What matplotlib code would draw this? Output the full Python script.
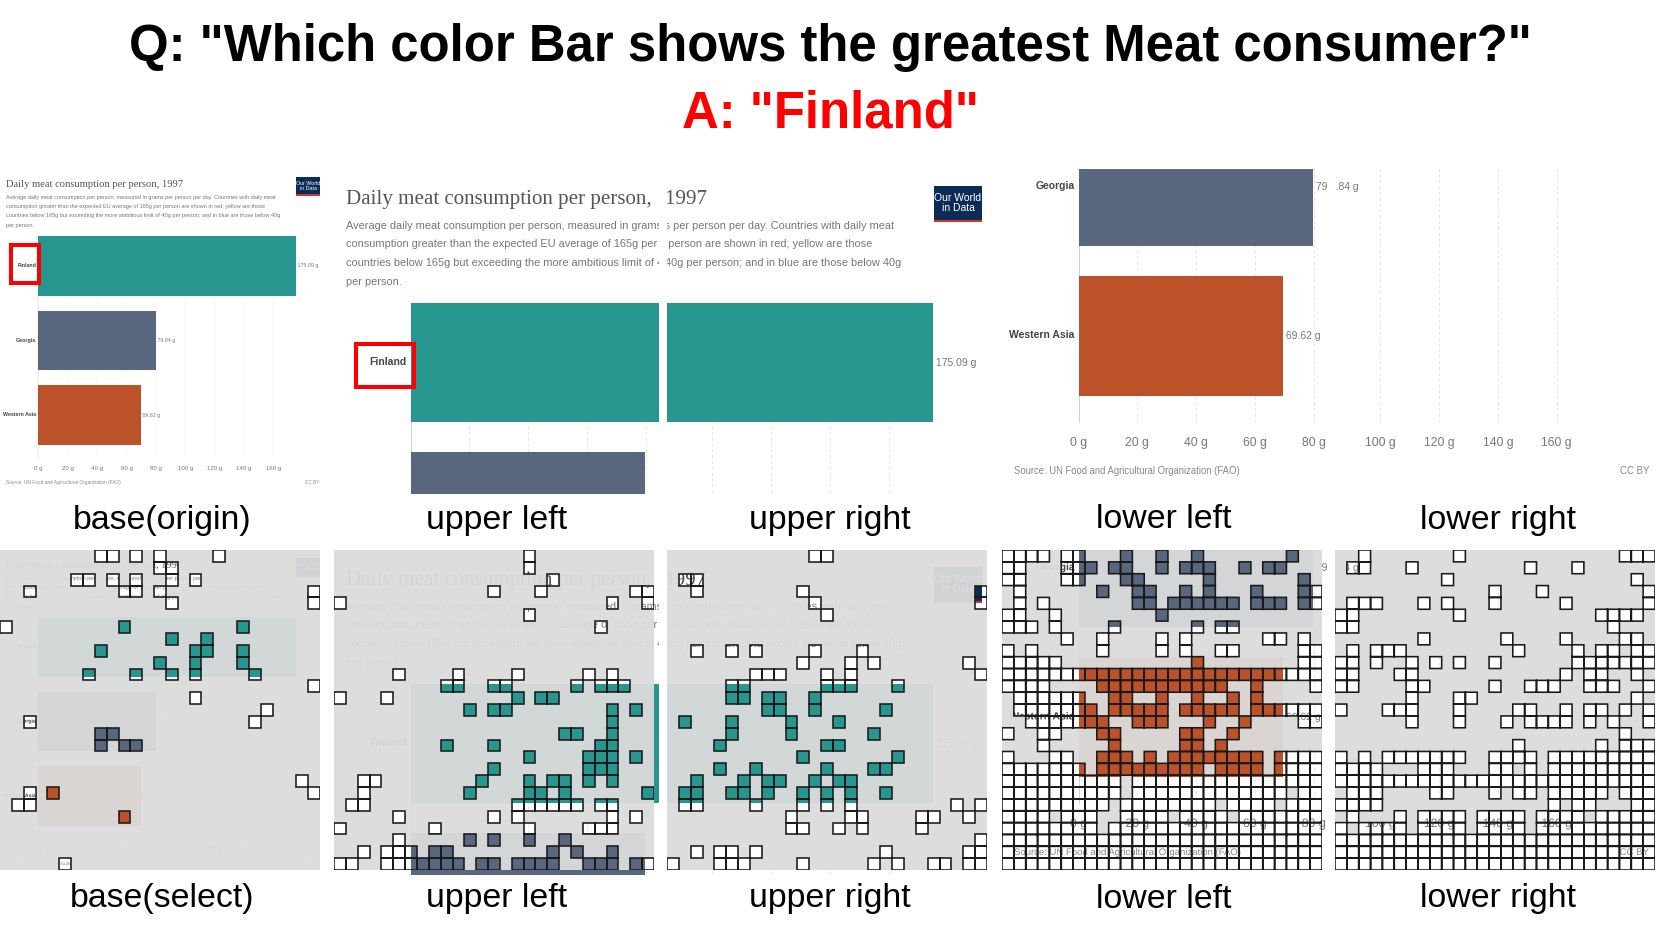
import matplotlib
matplotlib.use("Agg")
import matplotlib.pyplot as plt
import matplotlib.patheffects as pe
from matplotlib.patches import Rectangle
from matplotlib.path import Path

plt.rcParams['font.family'] = ['Liberation Sans', 'DejaVu Sans']

W, H = 1661, 926

# ---- chart values ----
regions = ["Finland", "Georgia", "Western Asia"]
meat_values = [175.09, 79.84, 69.62]
value_labels = ["175.09 g", "79.84 g", "69.62 g"]
bar_colors = ["#27968e", "#58677d", "#bb5229"]
gram_ticks = [0, 20, 40, 60, 80, 100, 120, 140, 160]
gram_labels = ["0 g", "20 g", "40 g", "60 g", "80 g", "100 g", "120 g", "140 g", "160 g"]

chart_title = "Daily meat consumption per person, 1997"
subtitle_lines = [
    "Average daily meat consumption per person, measured in grams per person per day. Countries with daily meat",
    "consumption greater than the expected EU average of 165g per person are shown in red; yellow are those",
    "countries below 165g but exceeding the more ambitious limit of 40g per person; and in blue are those below 40g",
    "per person.",
]
source_text = "Source: UN Food and Agricultural Organization (FAO)"

# ---- selected cells {row: columns} on a 27x27 grid ----
ALL = list(range(27))


def but(*skip):
    return [c for c in ALL if c not in skip]


base_cells = {
    0: [8, 9, 11, 13, 18], 1: [13, 14], 2: [6, 7, 9, 11, 14, 16], 3: [2, 10, 11, 13, 26], 4: [14, 26],
    6: [0, 10, 20], 7: [14, 17], 8: [8, 16, 17, 20], 9: [13, 16, 20], 10: [7, 11, 14, 16, 21], 11: [26],
    12: [16], 13: [22], 14: [2, 21], 15: [8, 9], 16: [8, 10, 11], 19: [25], 20: [2, 4, 26], 21: [1, 2],
    22: [10], 26: [5],
}
upper_left_cells = {
    0: [16], 1: [16], 2: [18], 3: [13, 17, 25, 26], 4: [0, 23, 26], 5: [16], 6: [22],
    10: [5, 10, 15, 21, 23], 11: [9, 10, 13, 14, 20, 22, 23, 24], 12: [0, 4, 15, 17, 18],
    13: [11, 13, 14, 23, 25], 14: [23], 15: [19, 20, 23], 16: [9, 13, 22, 23], 17: [16, 21, 22, 23, 25],
    18: [13, 21, 22, 23], 19: [2, 3, 12, 16, 18, 19, 21, 23], 20: [2, 11, 16, 17, 19, 26],
    21: [1, 2, 15, 16, 17, 18, 19, 20, 22, 23], 22: [5, 13, 15, 23, 25], 23: [0, 8, 16, 21, 22, 23],
    24: [5, 11, 13, 16, 19], 25: [2, 4, 5, 6, 8, 9, 18, 20, 23],
    26: [0, 1, 4, 5, 6, 7, 8, 9, 10, 12, 13, 15, 16, 17, 18, 21, 22, 23, 25, 26],
}
upper_right_cells = {
    0: [12, 13], 2: [1, 2], 3: [2, 11, 26], 4: [12, 26], 5: [13], 8: [2, 5, 7, 12, 16], 9: [11, 15, 17, 25],
    10: [7, 8, 9, 13, 15, 26], 11: [5, 6, 13, 14, 15, 19], 12: [5, 6, 8, 9, 12], 13: [8, 9, 12, 18],
    14: [1, 5, 10, 14], 15: [5, 10, 17], 16: [4, 13, 14], 17: [11, 19], 18: [4, 7, 13, 17, 18],
    19: [2, 6, 8, 9, 12, 14, 15], 20: [1, 2, 5, 6, 8, 11, 13, 15, 18], 21: [1, 2, 7, 11, 13, 15, 24, 26],
    22: [10, 15, 16, 21, 22, 25], 23: [10, 11, 14, 16, 21], 24: [26], 25: [2, 4, 5, 7, 18, 25, 26],
    26: [0, 4, 5, 6, 11, 17, 19, 22, 23, 25, 26],
}
lower_left_cells = {
    0: [0, 1, 2, 3, 5, 6, 10, 13, 16, 24], 1: [0, 1, 5, 6, 7, 9, 10, 13, 15, 16, 17, 20, 22, 23],
    2: [0, 1, 5, 6, 10, 11, 17, 25], 3: [1, 8, 11, 12, 15, 17, 21, 25, 26],
    4: [1, 3, 11, 12, 14, 15, 16, 17, 18, 19, 21, 22, 23, 25, 26], 5: [0, 1, 4, 13],
    6: [0, 1, 2, 4, 9, 16, 18, 19], 7: [5, 8, 13, 15, 22, 23, 25], 8: [0, 2, 8, 13, 15, 18, 19, 25, 26],
    9: [0, 1, 2, 3, 4, 16, 25, 26], 10: ALL, 11: [0, 1, 2, 3, 8, 9, 10, 11, 12, 13, 14, 15, 16, 17, 18, 21, 26],
    12: [1, 2, 3, 4, 5, 6, 9, 10, 13, 16, 19, 21],
    13: [1, 2, 3, 4, 5, 6, 7, 9, 10, 11, 12, 13, 15, 16, 17, 18, 19, 21, 22, 23, 24, 25, 26],
    14: [2, 3, 4, 5, 6, 7, 8, 11, 12, 13, 17, 20, 25, 26], 15: [0, 3, 4, 8, 9, 15, 16, 19],
    16: [3, 9, 15, 16, 18], 17: [0, 4, 5, 8, 9, 10, 12, 14, 15, 16, 17, 18, 19, 20, 21, 23, 24, 25, 26],
    18: [0, 1, 2, 3, 4, 5, 6, 8, 9, 10, 11, 12, 13, 14, 15, 16, 18, 19, 20, 21, 23, 24, 25, 26],
    19: but(10), 20: but(10, 24), 21: but(9, 18, 23), 22: but(4, 8, 9, 14, 19), 23: but(8),
    24: ALL, 25: ALL, 26: ALL,
}
lower_right_cells = {
    0: [2, 10, 24, 25, 26], 1: [1, 2, 6, 16, 20], 2: [9, 25], 3: [13, 17, 26], 4: [1, 2, 3, 7, 9, 13, 19, 26],
    5: [0, 1, 10, 22, 23, 24, 25], 6: [0, 1, 23], 7: [7, 14, 19, 24, 25],
    8: [1, 3, 4, 5, 15, 20, 22, 23, 25, 26], 9: [0, 1, 3, 6, 8, 10, 13, 20, 21, 22, 23, 24, 25, 26],
    10: [0, 1, 5, 6, 19, 21, 22, 25], 11: [0, 1, 6, 7, 13, 16, 17, 18, 21, 22, 23, 26], 12: [6, 10, 11, 25],
    13: [0, 4, 5, 6, 10, 15, 16, 19, 21, 22, 24, 26], 14: [6, 10, 14, 16, 17, 18, 19, 21, 23, 26], 15: [24],
    16: [15, 22, 24, 25, 26],
    17: [0, 2, 4, 5, 6, 7, 8, 9, 10, 13, 14, 15, 16, 18, 19, 20, 21, 22, 23, 24, 25, 26],
    18: [0, 1, 2, 3, 7, 8, 9, 13, 14, 16, 18, 19, 20, 21, 22, 23, 24, 25, 26], 19: ALL,
    20: [1, 2, 3, 8, 9, 13, 15, 16, 18, 19, 20, 21, 22, 24, 25, 26], 21: [0, 1, 2, 3, 18, 20, 21, 25, 26],
    22: [1, 5, 7, 8, 9, 10, 12, 13, 14, 15, 17, 18, 19, 20, 22, 23, 24, 25, 26],
    23: [0, 2, 3, 4, 5, 7, 8, 9, 10, 12, 13, 14, 15, 17, 18, 19, 20, 21, 22, 23, 24, 25, 26],
    24: ALL, 25: ALL, 26: ALL,
}

# name, crop of the 320 px screenshot (x0, x1, y0, y1), zoom, left edge, cells
panels = [
    ("base", (0, 320, 0, 320), 1, 0, base_cells),
    ("upper left", (0, 162.5, 0, 162.5), 2, 334, upper_left_cells),
    ("upper right", (162.5, 320, 0, 162.5), 2, 667, upper_right_cells),
    ("lower left", (0, 162.5, 162.5, 320), 2, 1002, lower_left_cells),
    ("lower right", (162.5, 320, 162.5, 320), 2, 1335, lower_right_cells),
]
TOP_Y, SELECT_Y = 169, 550
CELL_PANEL = 320


def gx(px):
    return (px - 38.3) / 1.469


def cy(py):
    return (py - 96.8) / 74.6


def pts(px, zoom):
    return px * zoom * 0.72


def px_axes(x0, y0, w, h, zorder):
    ax = fig.add_axes([x0 / W, 1 - (y0 + h) / H, w / W, h / H], zorder=zorder)
    ax.set_axis_off()
    return ax


def draw_scene(ax, crop, zoom):
    ax.set_xlim(gx(crop[0]), gx(crop[1]))
    ax.set_ylim(cy(crop[3]), cy(crop[2]))
    items = []

    # grid
    for t in gram_ticks:
        ls = '-' if t == 0 else (0, (3, 3))
        col = '#cfcfcf' if t == 0 else '#e4e4e4'
        items += ax.plot([t, t], [cy(67), cy(289)], color=col, lw=0.35 * zoom, ls=ls, zorder=1)

    # bars
    bars = ax.barh(range(len(regions)), meat_values, height=0.8, color=bar_colors, lw=0, zorder=2)
    items += list(bars.patches)

    def txt(px, py, s, size, **kw):
        kw.setdefault('color', '#777777')
        kw.setdefault('va', 'center')
        items.append(ax.text(gx(px), cy(py), s, fontsize=pts(size, zoom), clip_on=True, zorder=3, **kw))

    txt(6, 15.3, chart_title, 10.5, family='Liberation Serif', color='#555555')
    for py, line in zip([28.3, 37.3, 47, 56.7], subtitle_lines):
        txt(6, py, line, 5.5)

    for i, name in enumerate(regions):
        txt(36.3, 96.5 + i * 74.6, name, 5.2, ha='right', fontweight='bold', color='#444444')
        items.append(ax.text(meat_values[i], i, " " + value_labels[i], fontsize=pts(5.2, zoom), color='#777777',
                             va='center', clip_on=True, zorder=3))
    for t, lab in zip(gram_ticks, gram_labels):
        items.append(ax.text(t, cy(299.5), lab, fontsize=pts(6.1, zoom), color='#777777', ha='center', va='center',
                             clip_on=True, zorder=3))
    txt(6, 313.5, source_text, 4.77, color='#888888')
    txt(319.5, 313.5, "CC BY", 4.8, ha='right', color='#888888')

    # logo
    logo = Rectangle((gx(296), cy(26.7)), gx(320) - gx(296), cy(8.3) - cy(26.7), color='#0d2b57', lw=0, zorder=3)
    strip = Rectangle((gx(296), cy(26.7)), gx(320) - gx(296), cy(25.5) - cy(26.7), color='#d8302f', lw=0, zorder=4)
    items += [ax.add_patch(logo), ax.add_patch(strip)]
    txt(308, 17, "Our World\nin Data", 5.2, color='white', ha='center', linespacing=1.05)
    return items


def cell_path(cells):
    verts, codes = [], []
    for row, cols in cells.items():
        for c in cols:
            verts += [(c, row), (c + 1, row), (c + 1, row + 1), (c, row + 1), (c, row)]
            codes += [Path.MOVETO, Path.LINETO, Path.LINETO, Path.LINETO, Path.CLOSEPOLY]
    return Path(verts, codes)


def grid_axes(x0, y0, zorder):
    ax = px_axes(x0, y0, CELL_PANEL, CELL_PANEL, zorder)
    ax.set_xlim(0, 27)
    ax.set_ylim(27, 0)
    return ax


fig = plt.figure(figsize=(W / 100, H / 100), dpi=100, facecolor='white')

for name, crop, zoom, x0, cells in panels:
    w = (crop[1] - crop[0]) * zoom
    h = (crop[3] - crop[2]) * zoom

    # top row, the plain picture
    draw_scene(px_axes(x0, TOP_Y, w, h, 1), crop, zoom)

    # bottom row, faded picture with the selected cells on top
    draw_scene(px_axes(x0, SELECT_Y, w, h, 1), crop, zoom)
    under = grid_axes(x0, SELECT_Y, 2)
    under.add_patch(Rectangle((0, 0), 27, 27, color='#dcdcdc', alpha=0.95, lw=0))
    path = cell_path(cells)
    under.add_patch(matplotlib.patches.PathPatch(path, facecolor='white', lw=0))

    items = draw_scene(px_axes(x0, SELECT_Y, w, h, 3), crop, zoom)
    for it in items:
        it.set_clip_path(path, under.transData)
        if isinstance(it, matplotlib.text.Text):
            it.set_path_effects([pe.Normal()])

    over = grid_axes(x0, SELECT_Y, 4)
    over.add_patch(matplotlib.patches.PathPatch(path, facecolor='none', edgecolor='#1a1a1a', lw=1.15))

# red boxes round the Finland label, top row
box_ax = px_axes(0, 0, W, H, 5)
box_ax.set_xlim(0, W)
box_ax.set_ylim(H, 0)
box_ax.add_patch(Rectangle((11, 245), 28, 38, fill=False, edgecolor='#ff0000', lw=2.9))
box_ax.add_patch(Rectangle((356, 344), 58, 43, fill=False, edgecolor='#ff0000', lw=2.9))

# headline and panel names
fig.text(830 / W, 1 - 47 / H, 'Q: "Which color Bar shows the greatest Meat consumer?"', fontsize=36.6, fontweight='bold',
         ha='center', va='center', color='black')
fig.text(830 / W, 1 - 113.5 / H, 'A: "Finland"', fontsize=36.6, fontweight='bold', ha='center', va='center',
         color='#ff0000')

for x, top, bottom in [(162, "base(origin)", "base(select)"), (497, "upper left", "upper left"),
                       (830, "upper right", "upper right"), (1164, "lower left", "lower left"),
                       (1497.5, "lower right", "lower right")]:
    fig.text(x / W, 1 - 520 / H, top, fontsize=24.4, ha='center', va='center')
    fig.text(x / W, 1 - 899 / H, bottom, fontsize=24.4, ha='center', va='center')

fig.savefig("out.png", dpi=100)
